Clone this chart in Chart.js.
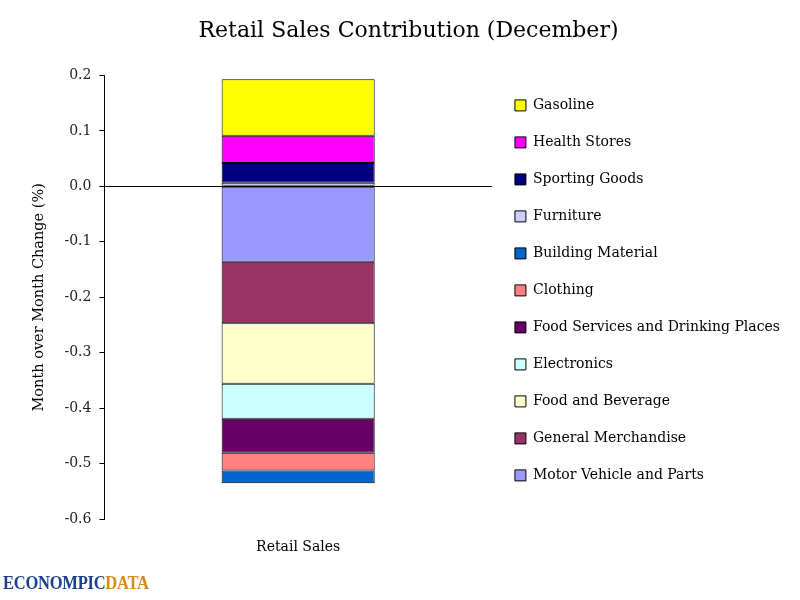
<!DOCTYPE html>
<html>
<head>
<meta charset="utf-8">
<script src="https://cdn.jsdelivr.net/npm/chart.js@4"></script>
<style>
  body { margin: 0; background: #fff; }
  #wrap { position: relative; width: 800px; height: 600px; }
  #logo {
    position: absolute; left: 3px; top: 572px;
    font: bold 19px "Liberation Serif", serif; letter-spacing: -0.3px;
    color: #1b3f8f; transform: scaleX(0.87); transform-origin: left;
  }
  #logo span { color: #d98a1c; }
</style>
</head>
<body>
<div id="wrap">
  <canvas id="chart" width="800" height="600"></canvas>
  <div id="logo">ECONOMPIC<span>DATA</span></div>
</div>
<script>
// data, in stacking order (first series sits next to zero)
const categories = ['Retail Sales'];
const seriesNames = [
    'Motor Vehicle and Parts', 'General Merchandise', 'Food and Beverage',
    'Electronics', 'Food Services and Drinking Places', 'Clothing',
    'Building Material', 'Furniture', 'Sporting Goods', 'Health Stores', 'Gasoline'
];
const seriesValues = [-0.136, -0.111, -0.109, -0.063, -0.061, -0.032, -0.023, 0.0065, 0.0355, 0.049, 0.102];
const yTicks = [0.2, 0.1, 0.0, -0.1, -0.2, -0.3, -0.4, -0.5, -0.6];

const colors = ['#9999FF', '#993366', '#FFFFCC', '#CCFFFF', '#660066', '#FF8080',
                '#0066CC', '#CCCCFF', '#000080', '#FF00FF', '#FFFF00'];

const serif = '"DejaVu Serif", "Liberation Serif", serif';

document.addEventListener('DOMContentLoaded', function () {
    const ctx = document.getElementById('chart').getContext('2d');

    new Chart(ctx, {
        type: 'bar',
        data: {
            labels: categories,
            datasets: seriesNames.map((name, i) => ({
                label: name,
                data: [seriesValues[i]],
                backgroundColor: colors[i],
                borderColor: '#000',
                borderWidth: 1,
                borderSkipped: false,
                categoryPercentage: 1,
                barPercentage: 0.395,
            })),
        },
        options: {
            responsive: false,
            animation: false,
            layout: { padding: { left: 27, right: 10, bottom: 24, top: 0 } },
            plugins: {
                title: {
                    display: true,
                    text: 'Retail Sales Contribution (December)',
                    color: '#000',
                    font: { family: serif, size: 22, weight: 'normal' },
                    padding: { top: 18, bottom: 31 },
                },
                legend: {
                    position: 'right',
                    align: 'start',
                    fullSize: false,
                    maxWidth: 330,
                    reverse: true,
                    labels: {
                        color: '#000',
                        font: { family: serif, size: 14 },
                        boxWidth: 11,
                        boxHeight: 11,
                        padding: 23,
                    },
                },
                tooltip: { enabled: false },
            },
            scales: {
                x: {
                    stacked: true,
                    grid: { display: false, drawTicks: false },
                    border: { display: false },
                    ticks: {
                        color: '#000',
                        padding: 20,
                        font: { family: serif, size: 14 },
                    },
                },
                y: {
                    stacked: true,
                    min: -0.6,
                    max: 0.2,
                    afterBuildTicks: (axis) => { axis.ticks = yTicks.map(v => ({ value: v })); },
                    grid: {
                        color: (c) => (c.tick && c.tick.value === 0 ? '#000' : 'rgba(0,0,0,0)'),
                        tickColor: '#000',
                        tickLength: 5,
                    },
                    border: { display: true, color: '#000' },
                    ticks: {
                        color: '#222',
                        padding: 8,
                        font: { family: serif, size: 14 },
                        callback: (v) => v.toFixed(1),
                    },
                    title: {
                        display: true,
                        text: 'Month over Month Change (%)',
                        color: '#000',
                        font: { family: serif, size: 14.5 },
                        padding: { bottom: 8 },
                    },
                },
            },
        },
    });
});
</script>
</body>
</html>
